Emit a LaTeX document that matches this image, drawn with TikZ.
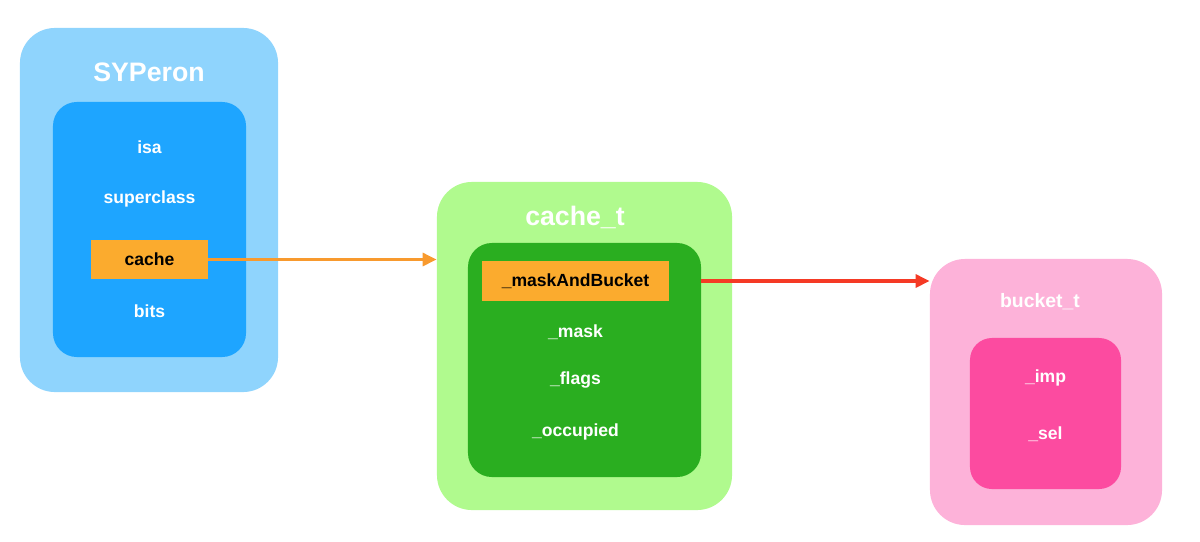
\documentclass[tikz,border=0pt]{standalone}
\usepackage{fontspec}
\setmainfont{Liberation Sans}
\usepackage{tikz}
\usetikzlibrary{arrows.meta,positioning}

\definecolor{blueout}{HTML}{8FD4FD}
\definecolor{bluein}{HTML}{1EA5FF}
\definecolor{greenout}{HTML}{B0FA8E}
\definecolor{greenin}{HTML}{2AAE20}
\definecolor{pinkout}{HTML}{FDB2D9}
\definecolor{pinkin}{HTML}{FC4BA0}
\definecolor{slotcol}{HTML}{FBAB2E}
\definecolor{arrorange}{HTML}{F89A2E}
\definecolor{arrred}{HTML}{F53A25}

\begin{document}
\begin{tikzpicture}[x=0.025cm, y=-0.025cm,
  outerbox/.style={rectangle, rounded corners=0.875cm, inner sep=0pt},
  innerbox/.style={rectangle, rounded corners=0.6cm, inner sep=0pt},
  slot/.style={rectangle, fill=slotcol, inner sep=0pt, text=black, font=\bfseries\fontsize{12.5}{15}\selectfont},
  field/.style={text=white, font=\bfseries\fontsize{12.5}{15}\selectfont},
  title/.style={text=white, font=\bfseries\fontsize{19}{22}\selectfont},
  link/.style={line width=2.4pt, -{Triangle[length=0.35cm, width=0.32cm]}}]
\useasboundingbox (0,0) rectangle (1200,541);

% SYPeron
\node [outerbox, fill=blueout, minimum width=6.45cm, minimum height=9.1cm] (person) at (149,210) {};
\node [innerbox, fill=bluein, minimum width=4.825cm, minimum height=6.375cm] (personIn) at (149.5,229.5) {};
\node [title] (personT) at (149,72) {SYPeron};
\node [field] (isa) at (149.5,147) {isa};
\node [field] (super) at (149.5,199) {superclass};
\node [slot, minimum width=2.925cm, minimum height=0.975cm] (cache) at (149.5,259.5) {cache};
\node [field] (bits) at (149.5,311) {bits};

% cache_t
\node [outerbox, fill=greenout, minimum width=7.375cm, minimum height=8.2cm] (cacheT) at (584.5,346) {};
\node [innerbox, fill=greenin, minimum width=5.825cm, minimum height=5.85cm] (cacheIn) at (584.5,360) {};
\node [title] (cacheTT) at (575,217) {cache\_t};
\node [slot, minimum width=4.675cm, minimum height=1cm] (maskBucket) at (575.5,281) {\_maskAndBucket};
\node [field] (mask) at (575.5,332) {\_mask};
\node [field] (flags) at (575.5,380) {\_flags};
\node [field] (occupied) at (575.5,432) {\_occupied};

% bucket_t
\node [outerbox, fill=pinkout, minimum width=5.8cm, minimum height=6.65cm] (bucket) at (1046,392) {};
\node [innerbox, rounded corners=0.55cm, fill=pinkin, minimum width=3.775cm, minimum height=3.775cm] (bucketIn) at (1045.5,413.5) {};
\node [field, font=\bfseries\fontsize{13.8}{16}\selectfont] (bucketT) at (1040,302) {bucket\_t};
\node [field] (imp) at (1045.5,378) {\_imp};
\node [field] (sel) at (1045.5,434) {\_sel};

\draw [link, arrorange] (cache.east) -- (cache.east -| cacheT.west);
\draw [link, arrred] (maskBucket.east -| cacheIn.east) -- (maskBucket.east -| bucket.west);

\end{tikzpicture}
\end{document}
